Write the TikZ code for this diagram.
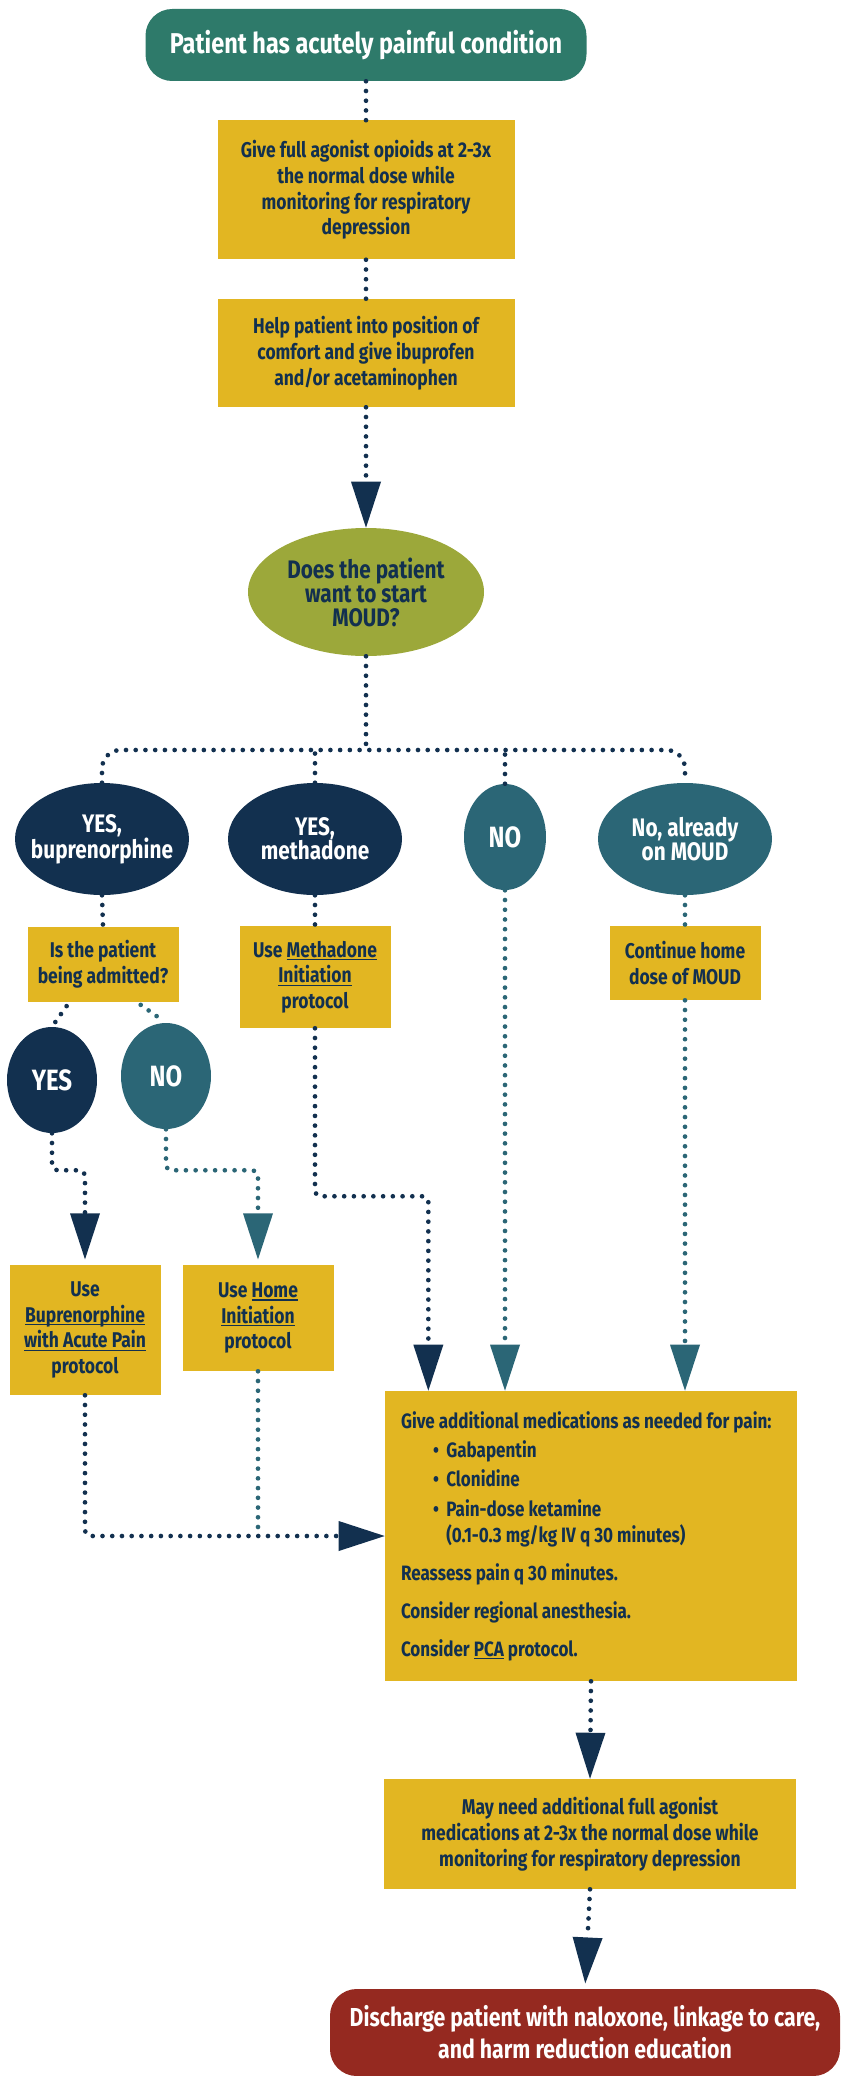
\documentclass[tikz,border=0pt]{standalone}
\usepackage{fontspec}
\setmainfont{Fira Sans}[FakeStretch=0.82]
\usepackage{tikz}
\usetikzlibrary{shapes.geometric, arrows.meta}

\definecolor{startgreen}{HTML}{2E7A6A}
\definecolor{boxyellow}{HTML}{E2B622}
\definecolor{navy}{HTML}{12304F}
\definecolor{moudolive}{HTML}{9CA83A}
\definecolor{moudteal}{HTML}{2B6676}
\definecolor{endred}{HTML}{952920}

\newcommand{\fntbox}{\bfseries\fontsize{16}{19.3}\selectfont}
\newcommand{\fntoval}{\bfseries\fontsize{19}{18}\selectfont}
\newcommand{\fntanswer}{\bfseries\fontsize{22}{22}\selectfont}
\newcommand{\fnttitle}{\bfseries\fontsize{21.5}{24}\selectfont}
\newcommand{\fntlist}{\bfseries\fontsize{15.6}{19.5}\selectfont}
\newcommand{\fntend}{\bfseries\fontsize{19.5}{24}\selectfont}
% underlined protocol names
\newcommand{\lnk}[1]{\setbox0\hbox{#1}\rlap{\rule[-2.4pt]{\wd0}{0.9pt}}\box0\relax}

\tikzset{
    flow/.style = {draw=navy, line width=3.5pt, line cap=round, dash pattern=on 0pt off 7.3pt},
    flowteal/.style = {flow, draw=moudteal},
    bigtip/.style = {-{Triangle[width=22.5pt, length=34.5pt, line width=0pt]}},
    stepbox/.style = {rectangle, fill=boxyellow, text=navy, align=center, inner sep=0pt,
        minimum width=113.25pt, font=\fntbox},
    endbox/.style = {rectangle, rounded corners=20pt, text=white, align=center, inner sep=0pt},
    choice/.style = {ellipse, text=white, align=center, inner xsep=-8pt, inner ysep=0pt,
        minimum width=130.5pt, minimum height=84pt, font=\fntoval},
}

\begin{document}
\begin{tikzpicture}[x=0.75pt, y=-0.75pt]
    \useasboundingbox (0,0) rectangle (840,2076);

    % first steps
    \node[endbox, fill=startgreen, minimum width=330.75pt, minimum height=54pt, font=\fnttitle] (start) at (366,45) {Patient has acutely painful condition};
    \node[stepbox, minimum width=222.75pt, minimum height=104.25pt] (fullagonist) at (366,190) {Give full agonist opioids at 2-3x\\ the normal dose while\\ monitoring for respiratory\\ depression};
    \node[stepbox, minimum width=222.75pt, minimum height=81pt] (comfort) at (366,353) {Help patient into position of\\ comfort and give ibuprofen\\ and/or acetaminophen};
    \node[choice, fill=moudolive, text=navy, minimum width=177pt, minimum height=96pt] (wantmoud) at (366,592) {Does the patient\\ want to start\\ MOUD?};

    % the four answers
    \node[choice, fill=navy] (bup) at (102,839) {YES,\\ buprenorphine};
    \node[choice, fill=navy] (meth) at (315,839) {YES,\\ methadone};
    \node[choice, fill=moudteal, minimum width=61.5pt, minimum height=79.5pt, font=\fntanswer] (nomoud) at (505,837) {NO};
    \node[choice, fill=moudteal] (onmoud) at (685,839) {No, already\\ on MOUD};

    \node[stepbox, minimum height=56.25pt] (admitted) at (103,964) {Is the patient\\ being admitted?};
    \node[stepbox, minimum height=76.5pt] (methproto) at (315,977) {Use \lnk{Methadone}\\ \lnk{Initiation}\\ protocol};
    \node[stepbox, minimum height=55.5pt] (continue) at (685,963) {Continue home\\ dose of MOUD};

    \node[choice, fill=navy, minimum width=67.5pt, minimum height=79.5pt, font=\fntanswer] (yes) at (52,1080) {YES};
    \node[choice, fill=moudteal, minimum width=67.5pt, minimum height=79.5pt, font=\fntanswer] (no) at (166,1076) {NO};

    \node[stepbox, minimum height=97.5pt] (bupproto) at (85,1330) {Use\\ \lnk{Buprenorphine}\\ \lnk{with Acute Pain}\\ protocol};
    \node[stepbox, minimum height=79.5pt] (homeproto) at (258,1318) {Use \lnk{Home}\\ \lnk{Initiation}\\ protocol};

    % pain management
    \node[stepbox, minimum width=309pt, minimum height=217.5pt, text width=285pt, align=flush left, font=\fntlist] (extrameds) at (591,1536) {Give additional medications as needed for pain:\\[2.5pt]
        \hspace*{24pt}\makebox[10pt][l]{\textbullet}Gabapentin\\[2.5pt]
        \hspace*{24pt}\makebox[10pt][l]{\textbullet}Clonidine\\[2.5pt]
        \hspace*{24pt}\makebox[10pt][l]{\textbullet}Pain-dose ketamine\\
        \hspace*{34pt}(0.1-0.3 mg/kg IV q 30 minutes)\\[9pt]
        Reassess pain q 30 minutes.\\[9pt]
        Consider regional anesthesia.\\[9pt]
        Consider \lnk{PCA} protocol.};
    \node[stepbox, minimum width=309pt, minimum height=82.5pt] (mayneed) at (590,1834) {May need additional full agonist\\ medications at 2-3x the normal dose while\\ monitoring for respiratory depression};
    \node[endbox, fill=endred, minimum width=382.5pt, minimum height=65.25pt, font=\fntend] (discharge) at (585,2032.5) {Discharge patient with naloxone, linkage to care,\\ and harm reduction education};

    \draw[flow] (start.south) -- (fullagonist.north);
    \draw[flow] (fullagonist.south) -- (comfort.north);
    \draw[flow, bigtip] (comfort.south) -- (wantmoud.north);

    % fan out
    \coordinate (fan) at (366,750);
    \draw[flow] (wantmoud.south) -- (fan);
    \draw[flow, rounded corners=14pt] (bup.north) |- (fan) -| (onmoud.north);
    \draw[flow] (meth.north) -- (meth.north |- fan);
    \draw[flow] (nomoud.north) -- (nomoud.north |- fan);

    \draw[flow] (bup.south) -- (admitted.north);
    \draw[flow] (meth.south) -- (methproto.north);
    \draw[flowteal] (onmoud.south) -- (continue.north);
    \draw[flow, shorten <=4pt, shorten >=3pt] ([xshift=-25pt]admitted.south) -- (yes.north);
    \draw[flowteal, shorten <=4pt, shorten >=3pt] ([xshift=25pt]admitted.south) -- (no.north);

    \draw[flow, bigtip, rounded corners=4pt, shorten >=4pt] (yes.south) -- ++(0,37) -| (bupproto.north);
    \draw[flowteal, bigtip, rounded corners=4pt, shorten >=4pt] (no.south) -- ++(0,41) -| (homeproto.north);
    \draw[flow, bigtip, rounded corners=4pt] (methproto.south) -- ++(0,168) -| ([xshift=-122pt]extrameds.north);
    \draw[flowteal, bigtip] (nomoud.south) -- (nomoud.south |- extrameds.north);
    \draw[flowteal, bigtip] (continue.south) -- (continue.south |- extrameds.north);
    \draw[flow, bigtip, rounded corners=4pt] (bupproto.south) |- (extrameds.west);
    \draw[flowteal] (homeproto.south) -- (homeproto.south |- extrameds.west);

    \draw[flow, bigtip] (extrameds.south) -- (mayneed.north);
    \draw[flow, bigtip, shorten >=4pt] (mayneed.south) -- (discharge.north);
\end{tikzpicture}
\end{document}
